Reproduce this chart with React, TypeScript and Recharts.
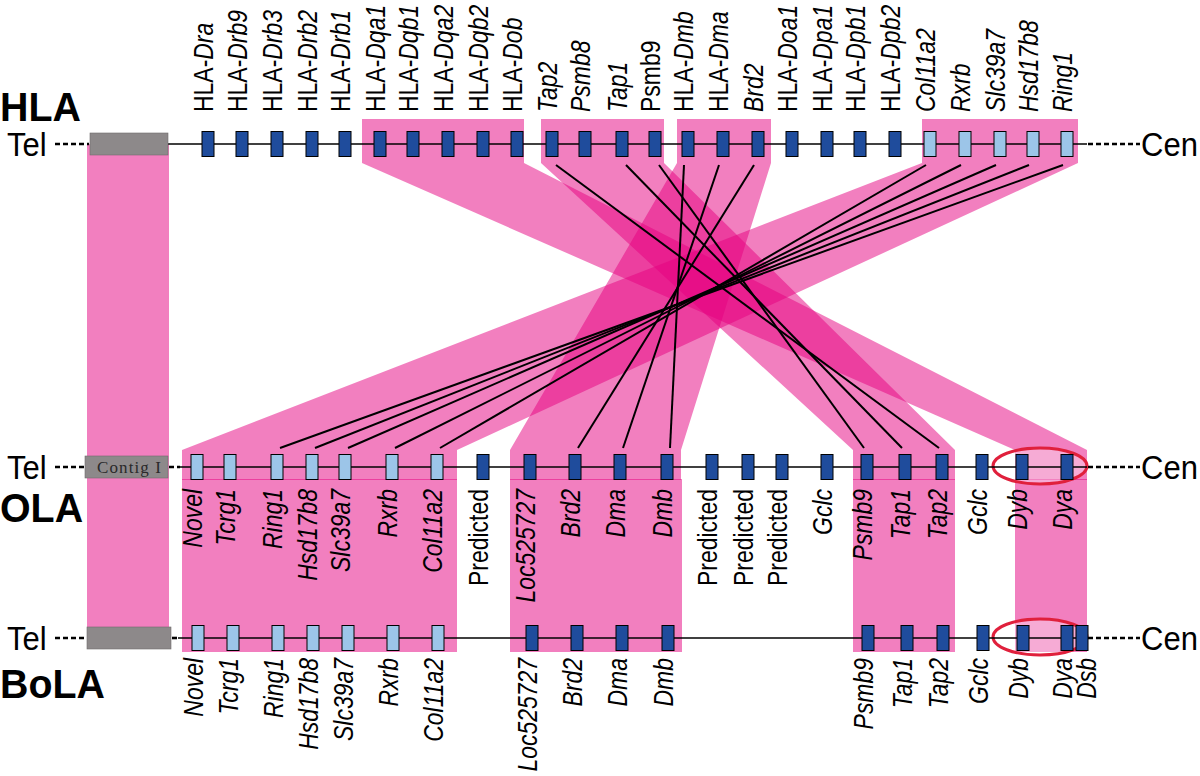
import React from 'react';
import { ScatterChart, Scatter, XAxis, YAxis } from 'recharts';

// ---------------- data ----------------
const hlaGenes = ['HLA-Dra', 'HLA-Drb9', 'HLA-Drb3', 'HLA-Drb2', 'HLA-Drb1', 'HLA-Dqa1', 'HLA-Dqb1', 'HLA-Dqa2', 'HLA-Dqb2', 'HLA-Dob', 'Tap2', 'Psmb8', 'Tap1', 'Psmb9', 'HLA-Dmb', 'HLA-Dma', 'Brd2', 'HLA-Doa1', 'HLA-Dpa1', 'HLA-Dpb1', 'HLA-Dpb2', 'Col11a2', 'Rxrb', 'Slc39a7', 'Hsd17b8', 'Ring1'];
const hlaPositions = [208, 242, 277, 312, 345, 380, 413, 448, 483, 517, 552, 585, 622, 655, 688, 723, 758, 792, 827, 860, 895, 930, 965, 1000, 1033, 1067];
const hlaLightGenes = ['Col11a2', 'Rxrb', 'Slc39a7', 'Hsd17b8', 'Ring1'];
const hlaUprightGenes = ['Psmb9'];

const olaGenes = ['Novel', 'Tcrg1', 'Ring1', 'Hsd17b8', 'Slc39a7', 'Rxrb', 'Col11a2', 'Predicted', 'Loc525727', 'Brd2', 'Dma', 'Dmb', 'Predicted', 'Predicted', 'Predicted', 'Gclc', 'Psmb9', 'Tap1', 'Tap2', 'Gclc', 'Dyb', 'Dya'];
const olaPositions = [197, 230, 277, 312, 345, 392, 437, 483, 530, 575, 620, 667, 712, 748, 782, 827, 867, 905, 942, 982, 1022, 1067];
const olaLightGenes = ['Novel', 'Tcrg1', 'Ring1', 'Hsd17b8', 'Slc39a7', 'Rxrb', 'Col11a2'];
const olaUprightGenes = ['Predicted'];

const bolaGenes = ['Novel', 'Tcrg1', 'Ring1', 'Hsd17b8', 'Slc39a7', 'Rxrb', 'Col11a2', 'Loc525727', 'Brd2', 'Dma', 'Dmb', 'Psmb9', 'Tap1', 'Tap2', 'Gclc', 'Dyb', 'Dya', 'Dsb'];
const bolaPositions = [198, 233, 278, 313, 348, 393, 438, 532, 577, 622, 668, 868, 907, 943, 983, 1023, 1067, 1082];
const bolaLightGenes = ['Novel', 'Tcrg1', 'Ring1', 'Hsd17b8', 'Slc39a7', 'Rxrb', 'Col11a2'];
const bolaUprightGenes: string[] = [];

// synteny blocks (HLA block i maps to OLA block i)
const hlaBlockSpans = [[362, 524], [541, 664], [677, 771], [922, 1078]];
const olaBlockSpans = [[1015, 1087], [853, 955], [510, 681], [182, 457]];
const bolaBlockSpans = [[182, 457], [510, 682], [853, 955], [1015, 1087]];
const contigSpan = [87, 169];
const dyHighlightSpan = [993, 1087];

// ortholog links HLA -> OLA
const orthologLinks = [
  ['Tap2', 'Tap2'], ['Tap1', 'Tap1'], ['Psmb9', 'Psmb9'],
  ['HLA-Dmb', 'Dmb'], ['HLA-Dma', 'Dma'], ['Brd2', 'Brd2'],
  ['Col11a2', 'Col11a2'], ['Rxrb', 'Rxrb'], ['Slc39a7', 'Slc39a7'], ['Hsd17b8', 'Hsd17b8'], ['Ring1', 'Ring1'],
];

// ---------------- layout ----------------
const W = 1200;
const H = 776;
const TRACK_Y = { HLA: 144, OLA: 467, BoLA: 638 };
const BAND_Y = { hlaTop: 119, hlaBottom: 163, olaTop: 450, olaBottom: 480, bolaBottom: 652 };
const LINK_Y = { top: 165, bottom: 448 };
const TRACKS = [
  { name: 'HLA', y: TRACK_Y.HLA, tel: [55, 89], box: [90, 168], gap: null as null | number[], solid: [168, 1087], cen: [1088, 1140] },
  { name: 'OLA', y: TRACK_Y.OLA, tel: [55, 85], box: [85, 168], gap: [169, 180], solid: [180, 1087], cen: [1088, 1140] },
  { name: 'BoLA', y: TRACK_Y.BoLA, tel: [55, 87], box: [87, 171], gap: [172, 178], solid: [178, 1087], cen: [1088, 1140] },
];

const PINK = 'rgb(229,0,127)';
const DARK_BLUE = '#1f4c9c';
const LIGHT_BLUE = '#9cc5e8';
const SANS = '"Liberation Sans", Arial, sans-serif';

// ---------------- derived point sets ----------------
const chunk = (arr: any[], n: number) => {
  const out: any[][] = [];
  for (let i = 0; i < arr.length; i += n) out.push(arr.slice(i, i + n));
  return out;
};

const crossBandPts = hlaBlockSpans.flatMap((b, i) => {
  const o = olaBlockSpans[i];
  return [
    { x: b[0], y: BAND_Y.hlaTop }, { x: b[1], y: BAND_Y.hlaTop }, { x: b[1], y: BAND_Y.hlaBottom },
    { x: o[1], y: BAND_Y.olaTop }, { x: o[1], y: BAND_Y.olaBottom }, { x: o[0], y: BAND_Y.olaBottom },
    { x: o[0], y: BAND_Y.olaTop }, { x: b[0], y: BAND_Y.hlaBottom },
  ];
});

const straightBandPts = [
  ...[contigSpan].flatMap((s) => [
    { x: s[0], y: TRACK_Y.HLA }, { x: s[1], y: TRACK_Y.HLA }, { x: s[1], y: TRACK_Y.BoLA }, { x: s[0], y: TRACK_Y.BoLA },
  ]),
  ...bolaBlockSpans.flatMap((s) => [
    { x: s[0], y: BAND_Y.olaBottom - 1 }, { x: s[1], y: BAND_Y.olaBottom - 1 },
    { x: s[1], y: BAND_Y.bolaBottom }, { x: s[0], y: BAND_Y.bolaBottom },
  ]),
];

const highlightPts = [TRACK_Y.OLA - 1, TRACK_Y.BoLA - 1].flatMap((y) => [
  { x: dyHighlightSpan[0], y }, { x: dyHighlightSpan[1], y },
]);

const solidLinePts = TRACKS.flatMap((t) => [{ x: t.solid[0], y: t.y }, { x: t.solid[1], y: t.y }]);
const dashedLinePts = TRACKS.flatMap((t) => [
  { x: t.tel[0], y: t.y }, { x: t.tel[1], y: t.y },
  { x: t.cen[0], y: t.y }, { x: t.cen[1], y: t.y },
  ...(t.gap ? [{ x: t.gap[0], y: t.y }, { x: t.gap[1], y: t.y }] : []),
]);
const grayBoxPts = TRACKS.flatMap((t) => [{ x: t.box[0], y: t.y - 11 }, { x: t.box[1], y: t.y + 11 }]);

const linkPts = orthologLinks.flatMap(([h, o]) => [
  { x: hlaPositions[hlaGenes.indexOf(h)], y: LINK_Y.top },
  { x: olaPositions[olaGenes.indexOf(o)], y: LINK_Y.bottom },
]);

const makeGenes = (names: string[], pos: number[], light: string[], upright: string[], y: number) =>
  names.map((n, i) => ({ x: pos[i], y, name: n, light: light.includes(n), upright: upright.includes(n) }));

const hlaData = makeGenes(hlaGenes, hlaPositions, hlaLightGenes, hlaUprightGenes, TRACK_Y.HLA);
const olaData = makeGenes(olaGenes, olaPositions, olaLightGenes, olaUprightGenes, TRACK_Y.OLA);
const bolaData = makeGenes(bolaGenes, bolaPositions, bolaLightGenes, bolaUprightGenes, TRACK_Y.BoLA);

const annotations = [
  { x: 0, y: 121, text: 'HLA', kind: 'title' },
  { x: 0, y: 522, text: 'OLA', kind: 'title' },
  { x: 0, y: 698, text: 'BoLA', kind: 'title' },
  ...TRACKS.map((t) => ({ x: 7, y: t.y + 12, text: 'Tel', kind: 'end' })),
  ...TRACKS.map((t) => ({ x: 1141, y: t.y + 12, text: 'Cen', kind: 'end' })),
  { x: 97, y: TRACK_Y.OLA + 6, text: 'Contig I', kind: 'contig' },
];

// ---------------- renderers ----------------
const noShape = () => <g />;

const polygonRenderer = (size: number) => (p: any) => (
  <g>
    {chunk(p.points || [], size).map((g, i) => (
      <polygon key={i} points={g.map((q: any) => `${q.x},${q.y}`).join(' ')} fill={PINK} fillOpacity={0.5} stroke="none" />
    ))}
  </g>
);

const segmentRenderer = (style: any) => (p: any) => (
  <g>
    {chunk(p.points || [], 2).map((g, i) => (
      <line key={i} x1={g[0].x} y1={g[0].y} x2={g[1].x} y2={g[1].y} {...style} />
    ))}
  </g>
);

const linkRenderer = (p: any) => (
  <g>
    {chunk(p.points || [], 2).map((g, i) => {
      const s = Math.sign(g[1].x - g[0].x);
      return <line key={i} x1={g[0].x + 4 * s} y1={g[0].y} x2={g[1].x - 3 * s} y2={g[1].y} stroke="#000" strokeWidth={2} />;
    })}
  </g>
);

const ellipseRenderer = (p: any) => (
  <g>
    {chunk(p.points || [], 2).map((g, i) => (
      <ellipse key={i} cx={(g[0].x + g[1].x) / 2} cy={g[0].y} rx={(g[1].x - g[0].x) / 2} ry={18}
        fill="#fff" fillOpacity={0.35} stroke="#e0203c" strokeWidth={3} />
    ))}
  </g>
);

const rectRenderer = (p: any) => (
  <g>
    {chunk(p.points || [], 2).map((g, i) => (
      <rect key={i} x={g[0].x} y={g[0].y} width={g[1].x - g[0].x} height={g[1].y - g[0].y} fill="#8d898a" stroke="#6f6b6c" strokeWidth={0.6} />
    ))}
  </g>
);

const labelShift: Record<string, number> = { Dsb: 9 };

const geneShape = (side: 'above' | 'below', gap: number) => (props: any) => {
  const { cx, cy, payload } = props;
  const name: string = payload.name;
  const hasPrefix = name.startsWith('HLA-');
  const rest = hasPrefix ? name.slice(4) : name;
  const italic = !payload.upright;
  const lx = cx + 5 + (side === 'below' && payload.y === TRACK_Y.BoLA && labelShift[name] ? labelShift[name] : 0);
  const ly = side === 'above' ? cy - gap : cy + gap;
  return (
    <g>
      <rect x={cx - 6} y={cy - 12.5} width={12} height={25} fill={payload.light ? LIGHT_BLUE : DARK_BLUE} stroke="#000" strokeWidth={1} />
      <text
        transform={`translate(${lx},${ly}) rotate(-90) scale(0.82,1)`}
        textAnchor={side === 'above' ? 'start' : 'end'}
        fontFamily={SANS}
        fontSize={28}
        fill="#000"
      >
        {hasPrefix && <tspan fontStyle="normal">HLA-</tspan>}
        <tspan fontStyle={italic ? 'italic' : 'normal'}>{rest}</tspan>
      </text>
    </g>
  );
};

const annotationShape = (props: any) => {
  const { cx, cy, payload } = props;
  if (payload.kind === 'title') {
    return (
      <text transform={`translate(${cx},${cy}) scale(0.96,1)`} fontFamily={SANS} fontWeight="bold" fontSize={41} fill="#000">{payload.text}</text>
    );
  }
  if (payload.kind === 'contig') {
    return (
      <text x={cx} y={cy} fontFamily='"Liberation Serif", "DejaVu Serif", serif' fontSize={17} fill="#2a2a2a" textLength={64} lengthAdjust="spacing">{payload.text}</text>
    );
  }
  return (
    <text transform={`translate(${cx},${cy}) scale(0.94,1)`} fontFamily={SANS} fontSize={33} fill="#000">{payload.text}</text>
  );
};

export default function App() {
  return (
    <div style={{ position: 'absolute', left: 0, top: 0, width: W, height: H, background: '#fff' }}>
      <ScatterChart width={W} height={H} margin={{ top: 0, right: 0, bottom: 0, left: 0 }}>
        <XAxis type="number" dataKey="x" domain={[0, W]} hide allowDataOverflow />
        <YAxis type="number" dataKey="y" domain={[0, H]} reversed hide allowDataOverflow />
        <Scatter data={straightBandPts} line={polygonRenderer(4)} shape={noShape} isAnimationActive={false} />
        <Scatter data={crossBandPts} line={polygonRenderer(8)} shape={noShape} isAnimationActive={false} />
        <Scatter data={highlightPts} line={ellipseRenderer} shape={noShape} isAnimationActive={false} />
        <Scatter data={solidLinePts} line={segmentRenderer({ stroke: '#000', strokeWidth: 1.5 })} shape={noShape} isAnimationActive={false} />
        <Scatter data={dashedLinePts} line={segmentRenderer({ stroke: '#000', strokeWidth: 2.6, strokeDasharray: '5 3' })} shape={noShape} isAnimationActive={false} />
        <Scatter data={grayBoxPts} line={rectRenderer} shape={noShape} isAnimationActive={false} />
        <Scatter data={linkPts} line={linkRenderer} shape={noShape} isAnimationActive={false} />
        <Scatter data={hlaData} shape={geneShape('above', 32)} isAnimationActive={false} />
        <Scatter data={olaData} shape={geneShape('below', 22)} isAnimationActive={false} />
        <Scatter data={bolaData} shape={geneShape('below', 20)} isAnimationActive={false} />
        <Scatter data={annotations} shape={annotationShape} isAnimationActive={false} />
      </ScatterChart>
    </div>
  );
}
